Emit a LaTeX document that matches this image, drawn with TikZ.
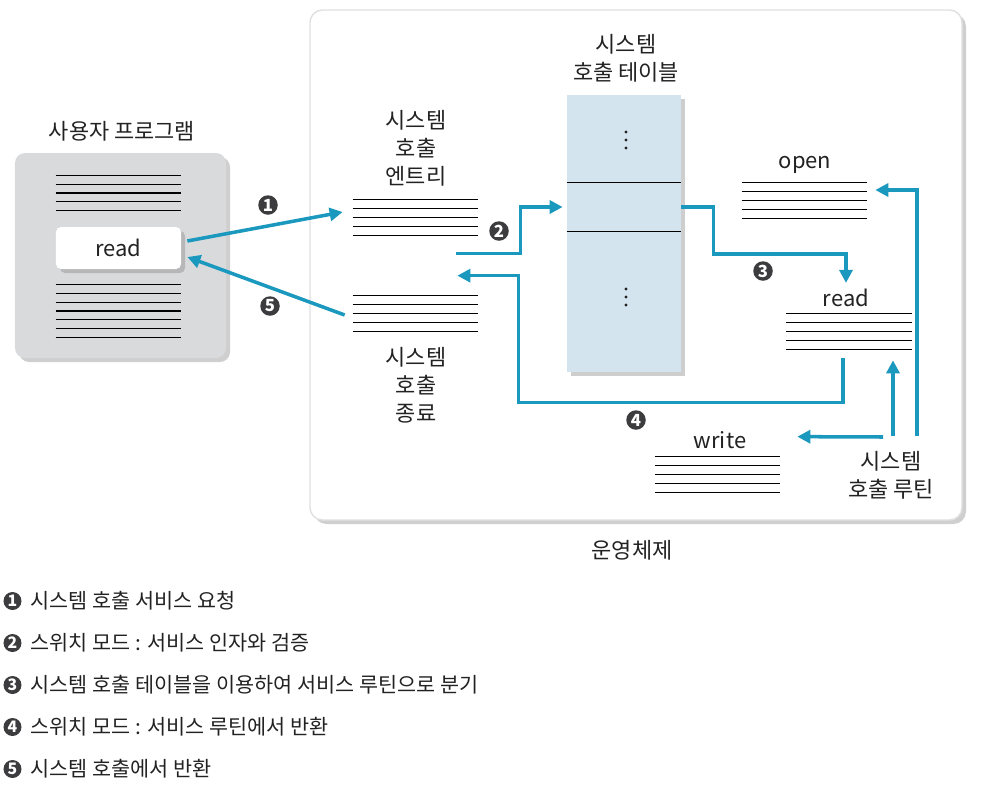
\documentclass[tikz,border=0pt]{standalone}
\usepackage{fontspec}
\setmainfont{Noto Sans CJK KR}
\usetikzlibrary{positioning,calc,arrows.meta,shadows}
\definecolor{flowblue}{HTML}{1B98BE}
\definecolor{boxgray}{HTML}{D9DADC}
\definecolor{tableblue}{HTML}{D3E4EE}
\definecolor{numgray}{HTML}{3C3C3E}
\definecolor{txt}{HTML}{222222}
\tikzset{
  shade box/.style={drop shadow={shadow xshift=0.8mm,shadow yshift=-0.8mm,opacity=0.38}},
  sheet/.style={rectangle,inner sep=0,minimum width=2.5cm,minimum height=0.7cm},
  rule/.style={line width=0.6pt},
  flow/.style={draw=flowblue,line width=2pt,-{Triangle[length=2.6mm,width=2.6mm]}},
  num/.style={circle,fill=numgray,text=white,inner sep=0,minimum size=0.39cm,font=\fontsize{9.5}{9.5}\selectfont\bfseries},
  lbl/.style={align=center,text=txt,font=\fontsize{12.5}{16}\selectfont},
  item/.style={inner sep=0,anchor=west,text=txt,font=\fontsize{11.8}{14}\selectfont}
}
\newcommand{\drawrules}[2]{%
  \foreach \i [evaluate=\i as \f using {(\i-1)/(#2-1)}] in {1,...,#2}
    \draw[rule] ($(#1.north west)!\f!(#1.south west)$) -- ($(#1.north east)!\f!(#1.south east)$);}
\begin{document}
\begin{tikzpicture}[x=0.2mm,y=-0.2mm]
    \useasboundingbox (0,0) rectangle (1004,793);

    % user program
    \node[lbl] (ulabel) at (122,131) {사용자 프로그램};
    \node[fill=boxgray,rounded corners=2mm,shade box,minimum width=4.22cm,minimum height=4.1cm] (user) at (120.5,255.5) {};
    \node[sheet,minimum height=0.68cm] (utop) at (118.5,193) {};
    \node[sheet,minimum height=1.04cm] (ubot) at (118.5,311) {};
    \drawrules{utop}{5}
    \drawrules{ubot}{7}
    \node[fill=white,rounded corners=1mm,shade box,minimum width=2.5cm,minimum height=0.84cm,lbl] (call) at (118.5,248) {read};

    % operating system
    \node[fill=white,draw=black!12,line width=0.8pt,rounded corners=2.5mm,shade box,minimum width=13.04cm,minimum height=10.2cm] (os) at (636,265) {};
    \node[lbl] (oslabel) at (632,550) {운영체제};

    \node[lbl] (elabel) at (416,148) {시스템\\호출\\엔트리};
    \node[sheet] (entry) at (415.5,217.5) {};
    \drawrules{entry}{5}
    \node[sheet] (exit) at (415.5,313.5) {};
    \drawrules{exit}{5}
    \node[lbl] (xlabel) at (416,385) {시스템\\호출\\종료};

    % table
    \node[lbl] (tlabel) at (626,58) {시스템\\호출 테이블};
    \node[fill=tableblue,shade box,minimum width=2.28cm,minimum height=5.54cm] (table) at (624,233.5) {};
    \node[minimum width=2.28cm,minimum height=0.96cm,inner sep=0] (slot) at (624,207) {};
    \draw[rule] (slot.north west) -- (slot.north east) (slot.south west) -- (slot.south east);
    \coordinate (dtop) at (626,140);
    \coordinate (dbot) at (626,297);
    \foreach \d in {-8,0,8}{
      \fill[txt] ($(dtop)+(0,\d)$) circle[radius=1.7];
      \fill[txt] ($(dbot)+(0,\d)$) circle[radius=1.7];
    }

    % routines
    \node[lbl] (olabel) at (805,165) {open};
    \node[sheet] (open) at (804.5,200.5) {};
    \drawrules{open}{5}
    \node[lbl] (rlabel) at (846,298) {read};
    \node[sheet] (readr) at (849,331.5) {};
    \drawrules{readr}{5}
    \node[lbl] (wlabel) at (720,440) {write};
    \node[sheet] (write) at (717.5,474.5) {};
    \drawrules{write}{5}
    \node[lbl] (rtlabel) at (891,475) {시스템\\호출 루틴};
    \coordinate (hub) at (893,436);

    % arrows
    \draw[flow] ($(call.east)+(6,-7)$) -- ($(entry.west)+(-10,-5.5)$);
    \draw[flow] ($(entry.south east)+(-22,18)$) -- ++(64,0) |- ($(slot.west)+(-4,0)$);
    \draw[flow] (slot.east) -- ++(32,0) -- ++(0,47) -| (rlabel.north);
    \draw[flow] ($(readr.south)+(-6,9)$) -- ++(0,44) -| ($(exit.north east)+(40,-20)$) -- ($(exit.north east)+(-21,-20)$);
    \draw[flow] ($(exit.west)+(-8,1.5)$) -- ($(call.east)+(6,9)$);
    \draw[flow] ($(hub)+(24,0)$) |- ($(open.east)+(8,-10.5)$);
    \draw[flow] (hub) -- ($(readr.south)+(44,11)$);
    \draw[flow] ($(hub)+(-10,1)$) -- ($(write.north east)+(17,-20)$);

    \node[num] (n1) at (268,205) {1};
    \node[num] (n2) at (499,231) {2};
    \node[num] (n3) at (763,271) {3};
    \node[num] (n4) at (636,420) {4};
    \node[num] (n5) at (270,306) {5};

    % legend
    \foreach \n/\y/\t in {1/601/{시스템 호출 서비스 요청},
                          2/643/{스위치 모드 : 서비스 인자와 검증},
                          3/685/{시스템 호출 테이블을 이용하여 서비스 루틴으로 분기},
                          4/727/{스위치 모드 : 서비스 루틴에서 반환},
                          5/769/{시스템 호출에서 반환}}{
      \node[num,minimum size=0.36cm,font=\fontsize{9}{9}\selectfont\bfseries] (k\n) at (12.5,\y) {\n};
      \node[item,right=0.17cm of k\n] (t\n) {\t};
    }
\end{tikzpicture}
\end{document}
